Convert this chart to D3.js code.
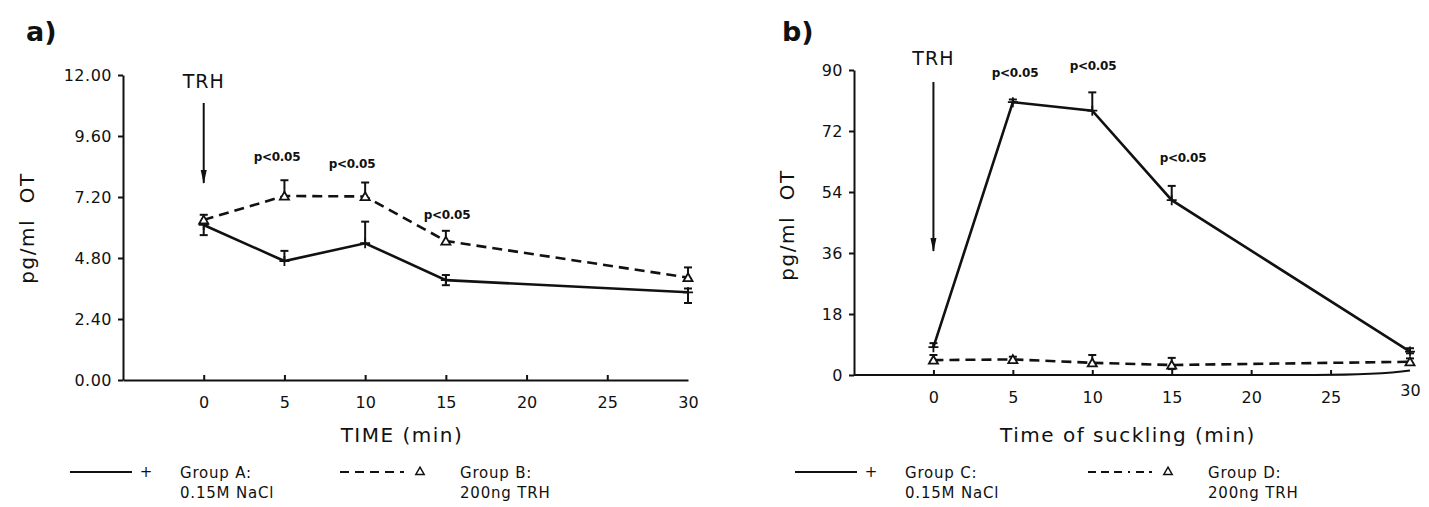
<!DOCTYPE html>
<html>
<head>
<meta charset="utf-8">
<script src="https://cdn.jsdelivr.net/npm/d3@7"></script>
<style>
  body { margin: 0; background: #fff; }
  svg text { font-family: "DejaVu Sans", sans-serif; fill: #111; }
</style>
</head>
<body>
<script>
// time points (min)
const times = [0, 5, 10, 15, 30];
const xTicks = [0, 5, 10, 15, 20, 25, 30];

// panel a) pg/ml OT
const yTicksA = [0, 2.4, 4.8, 7.2, 9.6, 12];
const groupA = [6.1, 4.68, 5.38, 3.93, 3.45];
const groupAUp = [0, 0.4, 0.85, 0.2, 0.15];
const groupADown = [0.4, 0, 0, 0.2, 0.42];
const groupB = [6.3, 7.24, 7.22, 5.47, 4.03];
const groupBUp = [0.2, 0.62, 0.55, 0.4, 0.4];
const groupBDown = [0, 0, 0, 0, 0.05];
const pLabelsA = [5, 10, 15];

// panel b) pg/ml OT
const yTicksB = [0, 18, 36, 54, 72, 90];
const groupC = [8.2, 80.5, 78.0, 51.6, 6.9];
const groupCUp = [1.2, 0.8, 5.4, 4.2, 1.0];
const groupCDown = [0, 0, 0, 0, 0.5];
const groupD = [4.4, 4.6, 3.6, 2.95, 3.9];
const groupDUp = [1.5, 0.8, 2.3, 2.1, 1.0];
const groupDDown = [0.5, 0.5, 0.5, 1.2, 0.5];
const pLabelsB = [5, 10, 15];

const width = 1429, height = 507;
const svg = d3.select("body").append("svg")
    .attr("width", width)
    .attr("height", height);

svg.append("defs").append("marker")
    .attr("id", "arrow")
    .attr("viewBox", "0 -4 14 8")
    .attr("refX", 13)
    .attr("markerWidth", 14)
    .attr("markerHeight", 8)
    .attr("markerUnits", "userSpaceOnUse")
    .attr("orient", "auto")
    .append("path")
    .attr("d", "M0,-3L14,0L0,3Z")
    .attr("fill", "#111");

function panel(opts) {
    const { x, y, g } = opts;

    // y axis
    const yAxis = g.append("g")
        .attr("transform", `translate(${x.range()[0]},0)`)
        .call(d3.axisLeft(y).tickValues(opts.yTicks).tickFormat(opts.yFormat)
            .tickSizeInner(5).tickSizeOuter(0).tickPadding(6));
    yAxis.selectAll("text").style("font-size", "16px").style("letter-spacing", "0.5px");
    yAxis.selectAll("line, path").attr("stroke", "#111").attr("stroke-width", 2);

    // x axis, ticks pointing up
    const xAxis = g.append("g")
        .attr("transform", `translate(0,${y(0)})`)
        .call(d3.axisBottom(x).tickValues(xTicks)
            .tickSizeInner(-5).tickSizeOuter(0).tickPadding(17));
    xAxis.selectAll("text").style("font-size", "16px");
    xAxis.selectAll("line, path").attr("stroke", "#111").attr("stroke-width", 2);
    xAxis.selectAll(".tick").filter(d => d === 30).select("line").remove();
    if (opts.curvedEnd) {
        xAxis.select(".domain").remove();
        xAxis.selectAll(".tick").filter(d => d === 30).select("text").attr("y", 10);
        g.append("path")
            .attr("d", `M${x(-5)},${y(0)} L${x(24)},${y(0)} Q${x(28)},${y(0)} ${x(30)},${y(1.3)}`)
            .attr("fill", "none").attr("stroke", "#111").attr("stroke-width", 2);
    }

    // titles
    g.append("text")
        .attr("transform", `translate(${opts.yTitleX},${opts.yTitleY}) rotate(-90)`)
        .attr("text-anchor", "middle")
        .style("font-size", "20px").style("letter-spacing", "1.5px")
        .text("pg/ml\u00a0\u00a0OT");
    g.append("text")
        .attr("x", opts.xTitleX).attr("y", 442)
        .attr("text-anchor", "middle")
        .style("font-size", "20px").style("letter-spacing", "1.5px")
        .text(opts.xTitle);
    g.append("text")
        .attr("x", opts.letterX).attr("y", 41)
        .style("font-size", "27px").style("font-weight", "bold")
        .text(opts.letter);

    // TRH arrow
    g.append("text")
        .attr("x", x(0)).attr("y", opts.trhY)
        .attr("text-anchor", "middle")
        .style("font-size", "19px").style("letter-spacing", "1px")
        .text("TRH");
    g.append("line")
        .attr("x1", x(0)).attr("x2", x(0))
        .attr("y1", opts.arrowTop).attr("y2", opts.arrowBottom)
        .attr("stroke", "#111").attr("stroke-width", 2)
        .attr("marker-end", "url(#arrow)");

    const line = d3.line().x((d, i) => x(times[i])).y(d => y(d));

    opts.series.forEach(s => {
        g.append("path")
            .datum(s.values)
            .attr("d", line)
            .attr("fill", "none")
            .attr("stroke", "#111")
            .attr("stroke-width", 2.6)
            .attr("stroke-dasharray", s.dash);

        // error bars
        s.values.forEach((v, i) => {
            const cx = x(times[i]);
            const top = y(v + s.up[i]), bot = y(v - s.down[i]);
            if (top === bot) return;
            g.append("line").attr("x1", cx).attr("x2", cx).attr("y1", top).attr("y2", bot)
                .attr("stroke", "#111").attr("stroke-width", 2);
            [[s.up[i], top], [s.down[i], bot]].forEach(([e, yy]) => {
                if (e > 0) g.append("line").attr("x1", cx - 4).attr("x2", cx + 4)
                    .attr("y1", yy).attr("y2", yy).attr("stroke", "#111").attr("stroke-width", 2);
            });
        });

        // markers
        s.values.forEach((v, i) => {
            const cx = x(times[i]), cy = y(v);
            if (s.marker === "tri") {
                g.append("path")
                    .attr("transform", `translate(${cx},${cy + 1})`)
                    .attr("d", d3.symbol(d3.symbolTriangle, 36)())
                    .attr("fill", "#fff").attr("stroke", "#111").attr("stroke-width", 1.8);
            } else {
                g.append("path")
                    .attr("d", `M${cx - 5},${cy}H${cx + 5}M${cx},${cy - 5}V${cy + 5}`)
                    .attr("stroke", "#111").attr("stroke-width", 1.8);
            }
        });
    });

    // significance labels
    opts.pLabels.forEach((t, k) => {
        g.append("text")
            .attr("x", opts.pX[k]).attr("y", opts.pY[k])
            .attr("text-anchor", "middle")
            .style("font-size", "12px").style("font-weight", "bold")
            .style("letter-spacing", "-0.3px")
            .text("p<0.05");
    });

    // legend
    const L = opts.legend;
    const lg = g.append("g");
    const txt = (xx, yy, s) => lg.append("text").attr("x", xx).attr("y", yy)
        .style("font-size", "15px").style("letter-spacing", "0.8px").text(s);
    lg.append("line").attr("x1", L.x0).attr("x2", L.x0 + 62).attr("y1", 472).attr("y2", 472)
        .attr("stroke", "#111").attr("stroke-width", 2);
    lg.append("text").attr("x", L.x0 + 76).attr("y", 477).attr("text-anchor", "middle")
        .style("font-size", "15px").text("+");
    txt(L.x0 + 110, 478, L.names[0]);
    txt(L.x0 + 110, 498, "0.15M NaCl");
    lg.append("line").attr("x1", L.x1).attr("x2", L.x1 + 64).attr("y1", 472).attr("y2", 472)
        .attr("stroke", "#111").attr("stroke-width", 2).attr("stroke-dasharray", L.dash);
    lg.append("path")
        .attr("transform", `translate(${L.x1 + 80},472)`)
        .attr("d", d3.symbol(d3.symbolTriangle, 30)())
        .attr("fill", "#fff").attr("stroke", "#111").attr("stroke-width", 1.5);
    txt(L.x1 + 120, 478, L.names[1]);
    txt(L.x1 + 120, 498, "200ng TRH");
}

const gA = svg.append("g");
const xA = d3.scaleLinear([-5, 30], [123, 688]);
const yA = d3.scaleLinear([0, 12], [380, 75]);
panel({
    g: gA, x: xA, y: yA,
    yTicks: yTicksA, yFormat: d3.format(".2f"),
    yTitleX: 34, yTitleY: 228, xTitleX: 402, xTitle: "TIME  (min)",
    letter: "a)", letterX: 26, trhY: 88, arrowTop: 103, arrowBottom: 183,
    series: [
        { values: groupA, up: groupAUp, down: groupADown, dash: null, marker: "plus" },
        { values: groupB, up: groupBUp, down: groupBDown, dash: "10,6", marker: "tri" }
    ],
    pLabels: pLabelsA,
    pX: [277, 352, 447], pY: [161, 168, 219],
    legend: { x0: 70, x1: 340, dash: "9,6", names: ["Group  A:", "Group  B:"] }
});

const gB = svg.append("g");
const xB = d3.scaleLinear([-5, 30], [854, 1410]);
const yB = d3.scaleLinear([0, 90], [375, 70]);
panel({
    g: gB, x: xB, y: yB,
    yTicks: yTicksB, yFormat: d3.format("d"),
    yTitleX: 794, yTitleY: 225, xTitleX: 1128, xTitle: "Time  of  suckling  (min)",
    letter: "b)", letterX: 782, trhY: 65, arrowTop: 82, arrowBottom: 251,
    curvedEnd: true,
    series: [
        { values: groupC, up: groupCUp, down: groupCDown, dash: null, marker: "plus" },
        { values: groupD, up: groupDUp, down: groupDDown, dash: "10,6", marker: "tri" }
    ],
    pLabels: pLabelsB,
    pX: [1015, 1093, 1183], pY: [77, 70, 162],
    legend: { x0: 795, x1: 1088, dash: "8,5,8,5,8,6,2,6", names: ["Group  C:", "Group  D:"] }
});
</script>
</body>
</html>
